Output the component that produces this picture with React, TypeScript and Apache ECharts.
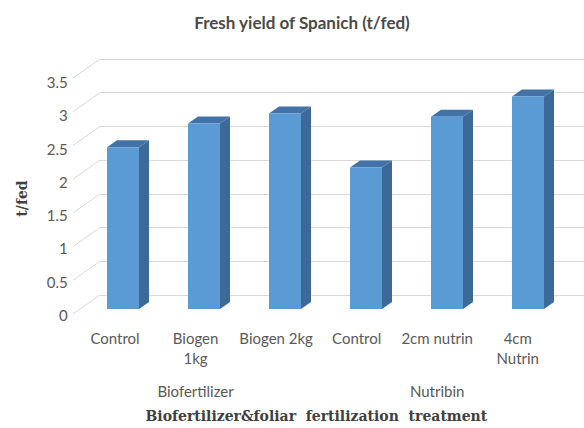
import React, { useEffect, useRef } from "react";
import * as echarts from "echarts";

const chartTitle = "Fresh yield of Spanich (t/fed)";
const categories = ["Control", "Biogen\n1kg", "Biogen 2kg", "Control", "2cm nutrin", "4cm\nNutrin"];
const groupLabels = ["", "Biofertilizer", "", "", "Nutribin", ""];
const yieldValues = [2.4, 2.75, 2.9, 2.1, 2.85, 3.15];
const yTicks = [0, 0.5, 1, 1.5, 2, 2.5, 3, 3.5];
const xTitle = "Biofertilizer&foliar  fertilization  treatment";
const yTitle = "t/fed";

const FRONT = "#5B9BD5";
const SIDE = "#3C6A98";
const TOP = "#4272A6";
const GRID = "#D9D9D9";
const LABEL = "#595959";
const SANS = "Lato, 'Open Sans', sans-serif";
const SERIF = "'DejaVu Serif', 'Liberation Serif', serif";

export default function App() {
  const ref = useRef<HTMLDivElement>(null);
  useEffect(() => {
    if (!ref.current) return;
    const chart = echarts.init(ref.current, undefined, { renderer: "svg" });
    const depthX = 10;
    const depthY = -7;
    const halfW = 16;
    chart.setOption({
      animation: false,
      backgroundColor: "#ffffff",
      title: {
        text: chartTitle,
        left: 297,
        textAlign: "center",
        top: 9,
        textStyle: { fontFamily: SANS, fontSize: 17, fontWeight: "bold", color: "#4a4a4a" },
      },
      grid: [
        // bar plane
        { left: 82.5, right: 15.5, top: 73, bottom: 119 },
        // front plane (labels)
        { left: 74.75, right: 26, top: 82, bottom: 113 },
        // back wall
        { left: 100, right: 0, top: 59, bottom: 133 },
      ],
      xAxis: [
        { type: "category", gridIndex: 0, data: categories, show: false },
        {
          type: "category",
          gridIndex: 1,
          data: categories,
          axisLine: { show: false },
          axisTick: { show: false },
          axisLabel: {
            interval: 0,
            margin: 13,
            fontFamily: SANS,
            fontSize: 15,
            lineHeight: 20,
            color: LABEL,
          },
        },
        {
          type: "category",
          gridIndex: 1,
          data: groupLabels,
          position: "bottom",
          axisLine: { show: false },
          axisTick: { show: false },
          axisLabel: {
            interval: 0,
            margin: 68,
            fontFamily: SANS,
            fontSize: 15,
            color: LABEL,
          },
          name: xTitle,
          nameLocation: "middle",
          nameGap: 94,
          nameTextStyle: { fontFamily: SERIF, fontSize: 14, fontWeight: "bold", color: "#404040" },
        },
        { type: "category", gridIndex: 2, data: categories, show: false },
      ],
      yAxis: [
        { type: "value", gridIndex: 0, min: 0, max: 3.5, interval: 0.5, show: false },
        {
          type: "value",
          gridIndex: 1,
          min: 0,
          max: 3.5,
          interval: 0.5,
          axisLine: { show: false },
          axisTick: { show: false },
          splitLine: { show: false },
          axisLabel: { margin: 7, fontFamily: SANS, fontSize: 15, color: LABEL },
          name: yTitle,
          nameLocation: "middle",
          nameGap: 46,
          nameTextStyle: { fontFamily: SERIF, fontSize: 14, fontWeight: "bold", color: "#404040" },
        },
        {
          type: "value",
          gridIndex: 2,
          min: 0,
          max: 3.5,
          interval: 0.5,
          axisLine: { show: false },
          axisTick: { show: false },
          axisLabel: { show: false },
          splitLine: { show: true, lineStyle: { color: GRID, width: 1 } },
        },
      ],
      series: [
        {
          type: "custom",
          xAxisIndex: 3,
          yAxisIndex: 2,
          data: yTicks.map((v) => [0, v]),
          silent: true,
          renderItem: (params: any, api: any) => {
            const y = api.coord([0, api.value(1)])[1];
            const x = params.coordSys.x;
            return {
              type: "line",
              shape: { x1: x - 27, y1: y + 19, x2: x, y2: y },
              style: { stroke: GRID, lineWidth: 1 },
            };
          },
        },
        {
          type: "custom",
          xAxisIndex: 0,
          yAxisIndex: 0,
          data: yieldValues.map((v, i) => [i, v]),
          renderItem: (params: any, api: any) => {
            const i = api.value(0);
            const base = api.coord([i, 0]);
            const topP = api.coord([i, api.value(1)]);
            const cx = base[0];
            const x0 = cx - halfW;
            const x1 = cx + halfW;
            const yb = base[1];
            const yt = topP[1];
            return {
              type: "group",
              children: [
                {
                  type: "polygon",
                  shape: {
                    points: [
                      [x1, yt],
                      [x1 + depthX, yt + depthY],
                      [x1 + depthX, yb + depthY],
                      [x1, yb],
                    ],
                  },
                  style: { fill: SIDE },
                },
                {
                  type: "polygon",
                  shape: {
                    points: [
                      [x0, yt],
                      [x0 + depthX, yt + depthY],
                      [x1 + depthX, yt + depthY],
                      [x1, yt],
                    ],
                  },
                  style: { fill: TOP },
                },
                {
                  type: "rect",
                  shape: { x: x0, y: yt, width: x1 - x0, height: yb - yt },
                  style: { fill: FRONT },
                },
              ],
            };
          },
        },
      ],
    });
    return () => chart.dispose();
  }, []);
  return (
    <div
      ref={ref}
      style={{ position: "fixed", left: 0, top: 0, width: 584, height: 428 }}
    />
  );
}
